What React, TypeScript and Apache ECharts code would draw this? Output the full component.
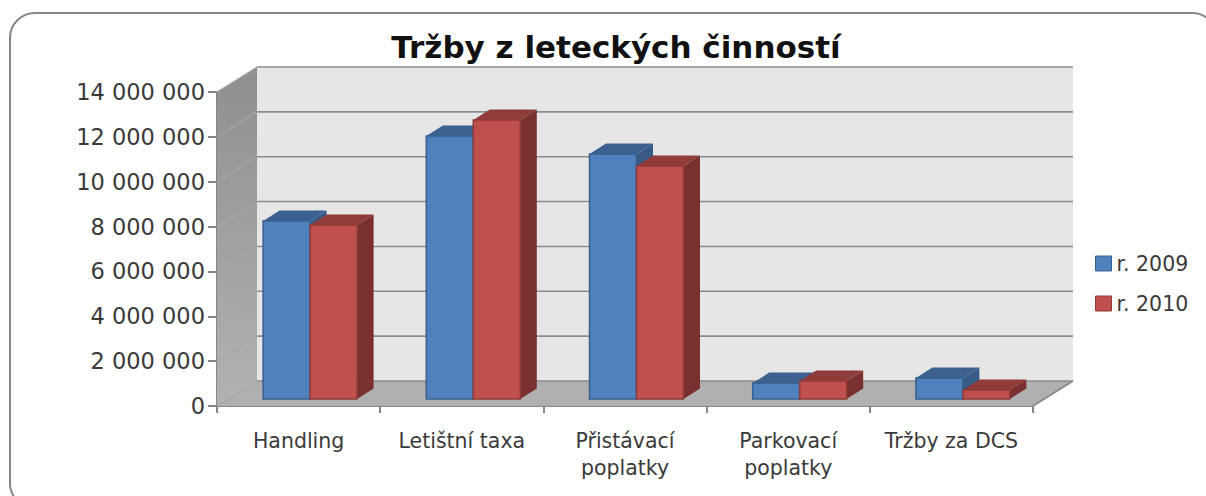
import React, { useEffect, useRef } from "react";
import * as echarts from "echarts";

const titleText = "Tržby z leteckých činností";
const categories = ["Handling", "Letištní taxa", "Přistávací\npoplatky", "Parkovací\npoplatky", "Tržby za DCS"];
const seriesNames = ["r. 2009", "r. 2010"];
const values2009 = [7940000, 11730000, 10920000, 710000, 940000];
const values2010 = [7760000, 12440000, 10390000, 800000, 400000];
const yTicks = [0, 2000000, 4000000, 6000000, 8000000, 10000000, 12000000, 14000000];

const WALL_DX = 40, WALL_DY = 25;
const BAR_DX = 11.5, BAR_DY = 7, DEPTH_X = 16.5, DEPTH_Y = 10.5, BAR_W = 47;
const FONT = "DejaVu Sans";
const AXIS = "#868686";

const palettes = [
  { front: "#4f81bd", top: "#3c6191", side: "#375a87", edge: "#38608f" },
  { front: "#c0504d", top: "#8f3c3a", side: "#7a302e", edge: "#8f3a38" },
];

const fmt = (v: number) => String(v).replace(/\B(?=(\d{3})+$)/g, " ");

function renderWall(params: any, api: any) {
  const cs = params.coordSys;
  const y = api.coord([0, api.value(1)])[1];
  const L = cs.x, R = cs.x + cs.width;
  const children: any[] = [];
  if (api.value(1) === 0) {
    const T = cs.y;
    children.push(
      { type: "polygon", shape: { points: [[L + WALL_DX, T - WALL_DY], [R + WALL_DX, T - WALL_DY], [R + WALL_DX, y - WALL_DY], [L + WALL_DX, y - WALL_DY]] }, style: { fill: "#e6e6e6" } },
      { type: "polygon", shape: { points: [[L, T], [L + WALL_DX, T - WALL_DY], [L + WALL_DX, y - WALL_DY], [L, y]] }, style: { fill: new echarts.graphic.LinearGradient(0, 0, 0, 1, [{ offset: 0, color: "#8f8f8f" }, { offset: 1, color: "#b2b2b2" }]) } },
      { type: "polygon", shape: { points: [[L, y], [L + WALL_DX, y - WALL_DY], [R + WALL_DX, y - WALL_DY], [R, y]] }, style: { fill: "#b0b0b0" } },
      { type: "line", shape: { x1: R, y1: y, x2: R + WALL_DX, y2: y - WALL_DY }, style: { stroke: AXIS, lineWidth: 1.5 } },
    );
  }
  children.push(
    { type: "line", shape: { x1: L, y1: y, x2: L + WALL_DX, y2: y - WALL_DY }, style: { stroke: "#a6a6a6", lineWidth: 1.2 } },
    { type: "line", shape: { x1: L + WALL_DX, y1: y - WALL_DY, x2: R + WALL_DX, y2: y - WALL_DY }, style: { stroke: "#8c8c8c", lineWidth: 1.6 } },
  );
  return { type: "group", children };
}

const renderBar = (idx: number) => (_params: any, api: any) => {
  const p = palettes[idx];
  const top = api.coord([api.value(0), api.value(1)]);
  const base = api.coord([api.value(0), 0]);
  const x0 = top[0] + BAR_DX + (idx === 0 ? -BAR_W : 0);
  const x1 = x0 + BAR_W;
  const yT = top[1] - BAR_DY;
  const yB = base[1] - BAR_DY;
  return {
    type: "group",
    children: [
      { type: "polygon", shape: { points: [[x1, yT], [x1 + DEPTH_X, yT - DEPTH_Y], [x1 + DEPTH_X, yB - DEPTH_Y], [x1, yB]] }, style: { fill: p.side } },
      { type: "polygon", shape: { points: [[x0, yT], [x0 + DEPTH_X, yT - DEPTH_Y], [x1 + DEPTH_X, yT - DEPTH_Y], [x1, yT]] }, style: { fill: p.top } },
      { type: "rect", shape: { x: x0, y: yT, width: BAR_W, height: yB - yT }, style: { fill: p.front, stroke: p.edge, lineWidth: 1.5 } },
    ],
  };
};

export default function App() {
  const ref = useRef<HTMLDivElement>(null);
  useEffect(() => {
    document.body.style.margin = "0";
    const chart = echarts.init(ref.current!, undefined, { renderer: "svg" });
    chart.setOption({
      animation: false,
      backgroundColor: "#ffffff",
      title: {
        text: titleText, left: 611, top: 26, textAlign: "center",
        textStyle: { fontFamily: FONT, fontWeight: "bold", fontSize: 31, color: "#111111" },
      },
      graphic: [{
        type: "rect", z: -10, silent: true,
        shape: { x: 10, y: 13, width: 1207, height: 495, r: 25 },
        style: { fill: "#ffffff", stroke: AXIS, lineWidth: 2 },
      }],
      legend: {
        orient: "vertical", left: 1090, top: 248, itemWidth: 16, itemHeight: 15, itemGap: 19, icon: "rect",
        selectedMode: false,
        textStyle: { fontFamily: FONT, fontSize: 20.5, color: "#3a3a3a" },
        data: seriesNames.map((name, i) => ({ name, itemStyle: { borderColor: palettes[i].edge, borderWidth: 1 } })),
      },
      grid: { left: 217, top: 92, width: 816, height: 314, containLabel: false },
      xAxis: {
        type: "category", data: categories, boundaryGap: true,
        axisLine: { lineStyle: { color: AXIS, width: 2 } },
        axisTick: { show: true, length: 7, lineStyle: { color: AXIS, width: 2 } },
        axisLabel: { margin: 21, fontFamily: FONT, fontSize: 20.5, lineHeight: 27, color: "#3a3a3a", interval: 0 },
      },
      yAxis: {
        type: "value", min: 0, max: 14000000, interval: 2000000,
        splitLine: { show: false },
        axisLine: { show: true, lineStyle: { color: AXIS, width: 2 } },
        axisTick: { show: true, length: 9, lineStyle: { color: AXIS, width: 2 } },
        axisLabel: { margin: 12, fontFamily: FONT, fontSize: 22.5, color: "#3a3a3a", formatter: fmt },
      },
      series: [
        { type: "custom", name: "_walls", silent: true, clip: false, z: 1, renderItem: renderWall, encode: { x: 0, y: 1 }, data: yTicks.map((v) => [0, v]) },
        { type: "custom", name: seriesNames[0], silent: true, clip: false, z: 2, renderItem: renderBar(0), itemStyle: { color: palettes[0].front }, encode: { x: 0, y: 1 }, data: values2009.map((v, i) => [i, v]) },
        { type: "custom", name: seriesNames[1], silent: true, clip: false, z: 3, renderItem: renderBar(1), itemStyle: { color: palettes[1].front }, encode: { x: 0, y: 1 }, data: values2010.map((v, i) => [i, v]) },
      ],
    });
    return () => chart.dispose();
  }, []);
  return <div ref={ref} style={{ width: 1206, height: 496 }} />;
}
